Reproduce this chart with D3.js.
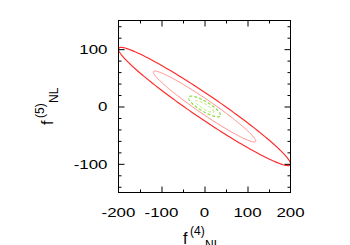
<!DOCTYPE html>
<html><head><meta charset="utf-8">
<script src="https://cdn.jsdelivr.net/npm/d3@7"></script>
<style>body{margin:0;background:#fff}svg{display:block}text{font-family:"Liberation Sans",Arial,sans-serif;fill:#000}</style>
</head><body><svg id="c" width="350" height="245"></svg>
<script>
// axis ticks
const xMajorTicks = [-200, -100, 0, 100, 200];
const xMinorTicks = [-150, -50, 50, 150];
const yMajorTicks = [-100, 0, 100];
const yMinorTicks = [-140, -120, -80, -60, -40, -20, 20, 40, 60, 80, 120, 140];
// contour ellipses: extreme x, y at that extreme, vertical half-height at x=0
const contourNames   = ["outer", "middle", "green outer", "green inner"];
const contourXExt    = [200, 119, 37, 22];
const contourYAtXExt = [-100, -60, -15, -9];
const contourHalfY   = [25, 15, 10, 5];
const contourColors  = ["#ff2a2a", "#ff8c8c", "#8ee04a", "#b8ec5a"];
const contourWidths  = [1.15, 1, 1.3, 1];
const contourDash    = [null, null, "3,2", "3,2"];

const svg = d3.select("#c");
const x = d3.scaleLinear().domain([-200, 200]).range([118.5, 290.5]);
const y = d3.scaleLinear().domain([-150, 150]).range([192.5, 20.5]);

const g = svg.append("g");
const N = 240;
contourNames.forEach((name, i) => {
  const pts = d3.range(N + 1).map(k => {
    const t = 2 * Math.PI * k / N;
    return [contourXExt[i] * Math.cos(t), contourYAtXExt[i] * Math.cos(t) + contourHalfY[i] * Math.sin(t)];
  });
  g.append("path")
    .attr("d", d3.line().x(d => x(d[0])).y(d => y(d[1])).curve(d3.curveLinearClosed)(pts))
    .attr("fill", "none").attr("stroke", contourColors[i])
    .attr("stroke-width", contourWidths[i])
    .attr("stroke-dasharray", contourDash[i]);
});

// frame
svg.append("rect").attr("x", 118.5).attr("y", 20.5).attr("width", 172).attr("height", 172)
  .attr("fill", "none").attr("stroke", "#000").attr("stroke-width", 1);

function ticks(axisGen, transform, values, size) {
  svg.append("g").attr("transform", transform)
    .call(axisGen.tickValues(values).tickSize(size).tickFormat(""))
    .call(s => s.select(".domain").remove())
    .selectAll("line").attr("stroke", "#000");
}
// inward ticks on all four sides
ticks(d3.axisTop(x), "translate(0,192.5)", xMajorTicks.slice(1, -1), 6);
ticks(d3.axisTop(x), "translate(0,192.5)", xMinorTicks, 3);
ticks(d3.axisBottom(x), "translate(0,20.5)", xMajorTicks.slice(1, -1), 6);
ticks(d3.axisBottom(x), "translate(0,20.5)", xMinorTicks, 3);
ticks(d3.axisRight(y), "translate(118.5,0)", yMajorTicks, 6);
ticks(d3.axisRight(y), "translate(118.5,0)", yMinorTicks, 3);
ticks(d3.axisLeft(y), "translate(290.5,0)", yMajorTicks, 6);
ticks(d3.axisLeft(y), "translate(290.5,0)", yMinorTicks, 3);

// tick labels (glyphs slightly wide, as in the reference)
const sx = 1.25;
svg.append("g").selectAll("text").data(xMajorTicks).join("text")
  .attr("transform", d => `translate(${x(d)},216.5) scale(${sx},1)`).attr("text-anchor", "middle")
  .attr("font-size", 13.5).text(d => d);
svg.append("g").selectAll("text").data(yMajorTicks).join("text")
  .attr("transform", d => `translate(107.5,${y(d) + 4.8}) scale(${sx},1)`).attr("text-anchor", "end")
  .attr("font-size", 13.5).text(d => d);

// axis labels
function axisLabel(sel, main, sup, sub) {
  sel.append("tspan").attr("font-size", 16).text(main);
  sel.append("tspan").attr("x", 7).attr("dy", -9).attr("font-size", 12).text(sup);
  sel.append("tspan").attr("x", 22).attr("dy", 13.5).attr("font-size", 12).text(sub);
}
svg.append("text").attr("transform", "translate(183,244)").call(axisLabel, "f", "(4)", "NL");
svg.append("text").attr("transform", "translate(53,125) rotate(-90)").call(axisLabel, "f", "(5)", "NL");
</script></body></html>
